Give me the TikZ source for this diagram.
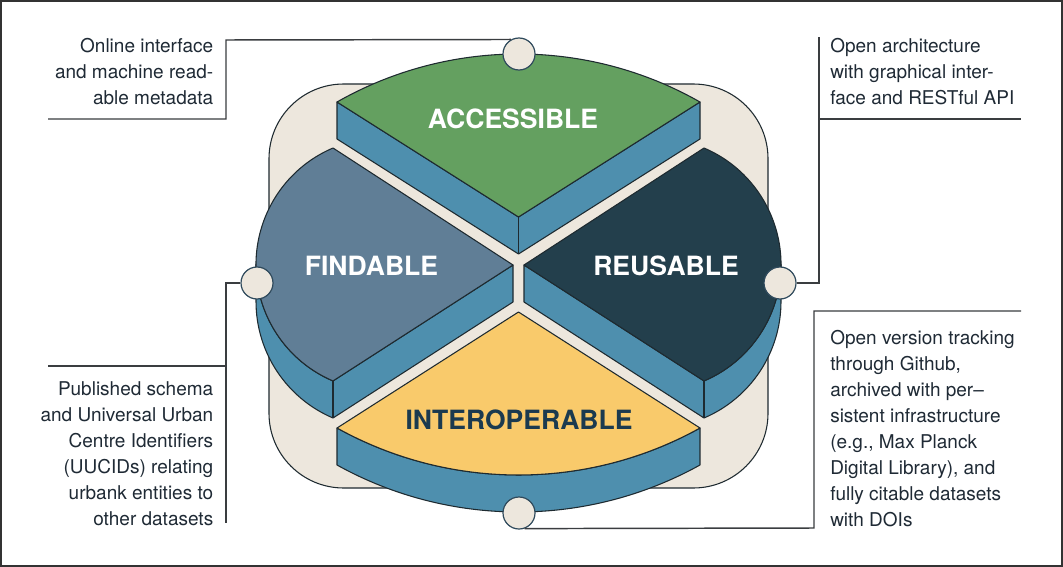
\documentclass[tikz,border=0pt]{standalone}
\usepackage{fontspec}
\setmainfont{TeX Gyre Heros}
\definecolor{greenA}{HTML}{64A060}
\definecolor{slateF}{HTML}{607E96}
\definecolor{tealR}{HTML}{233F4C}
\definecolor{yellowI}{HTML}{F9CA6B}
\definecolor{sideB}{HTML}{4E8FAE}
\definecolor{beige}{HTML}{EDE7DD}
\definecolor{lineC}{HTML}{1E2A30}
\definecolor{connC}{HTML}{3A3D40}
\definecolor{dotC}{HTML}{2F4A5C}
\definecolor{txtC}{HTML}{1F2A35}
\definecolor{navyI}{HTML}{1B3A4F}
\begin{document}
\begin{tikzpicture}[x=0.75pt,y=-0.75pt,
  edge/.style={draw=lineC,line width=0.8pt,line join=round},
  conn/.style={draw=connC,line width=1.1pt},
  dot/.style={circle,draw=dotC,line width=0.9pt,fill=beige,minimum size=24pt,inner sep=0pt},
  big/.style={font=\fontsize{19.9}{24}\selectfont\bfseries,anchor=base,inner sep=0pt},
  note/.style={font=\fontsize{14.25}{19.5}\selectfont,text=txtC,inner sep=0pt}]
\useasboundingbox (0,0) rectangle (1063,567);
\fill[white] (0,0) rectangle (1063,567);
\draw[draw=black!80,line width=1.5pt] (1,1) rectangle (1062,566);

% beige backdrop
\draw[edge,fill=beige,rounded corners=56pt] (269,84) rectangle (768,488);

% ACCESSIBLE
\draw[edge,fill=sideB] (337,102) -- (518.5,217) -- (700,102) -- (700,139) -- (518.5,254) -- (337,139) -- cycle;
\draw[edge] (518.5,217) -- (518.5,254);
\draw[edge,fill=greenA] (337,102) arc[start angle=-119.64,end angle=-60.36,radius=367] -- (518.5,217) -- cycle;

% FINDABLE
\draw[edge,fill=sideB] (256,264.5) arc[start angle=180,end angle=113.07,radius=126.6] -- (513,265) -- (513,302) -- (333,418) arc[start angle=113.07,end angle=180,radius=126.6] -- cycle;
\draw[edge] (333,381) -- (333,418);
\draw[edge,fill=slateF] (513,265) -- (333,148) arc[start angle=246.93,end angle=113.07,radius=126.6] -- cycle;

% REUSABLE
\draw[edge,fill=sideB] (781,264.5) arc[start angle=0,end angle=66.93,radius=126.6] -- (524,265) -- (524,302) -- (704,418) arc[start angle=66.93,end angle=0,radius=126.6] -- cycle;
\draw[edge] (704,381) -- (704,418);
\draw[edge,fill=tealR] (524,265) -- (704,148) arc[start angle=-66.93,end angle=66.93,radius=126.6] -- cycle;

% INTEROPERABLE
\draw[edge,fill=sideB] (700,428) arc[start angle=60.97,end angle=119.03,radius=374] -- (337,465) arc[start angle=119.03,end angle=60.97,radius=374] -- cycle;
\draw[edge,fill=yellowI] (518.5,312) -- (700,428) arc[start angle=60.97,end angle=119.03,radius=374] -- cycle;

% labels
\node[big,text=white] (acc) at (513,128) {ACCESSIBLE};
\node[big,text=white] (fin) at (371.5,275) {FINDABLE};
\node[big,text=white] (reu) at (666,275) {REUSABLE};
\node[big,text=navyI] (int) at (519,429) {INTEROPERABLE};

% circles
\node[dot] (topc) at (519,54) {};
\node[dot] (leftc) at (257,283) {};
\node[dot] (rightc) at (780,283) {};
\node[dot] (botc) at (519,513) {};

% notes
\node[note,align=right,anchor=north east] (ntl) at (213.5,38) {Online interface\\and machine read-\\able metadata};
\node[note,align=left,anchor=north west] (ntr) at (830,38) {Open architecture\\with graphical inter-\\face and RESTful API};
\node[note,align=right,anchor=north east] (nbl) at (213.5,381) {Published schema\\and Universal Urban\\Centre Identifiers\\(UUCIDs) relating\\urbank entities to\hspace*{3pt}\\other datasets};
\node[note,align=left,anchor=north west] (nbr) at (830,330) {Open version tracking\\through Github,\\archived with per–\\sistent infrastructure\\(e.g., Max Planck\\Digital Library), and\\fully citable datasets\\with DOIs};

% connectors
\coordinate (k1) at (226,40);
\coordinate (k2) at (226,119);
\coordinate (e1) at (48,119);
\coordinate (k3) at (226,283);
\coordinate (k4) at (226,523);
\coordinate (k5) at (226,366);
\coordinate (e2) at (48,366);
\coordinate (k6) at (819,283);
\coordinate (k7) at (819,37);
\coordinate (k8) at (819,119);
\coordinate (e3) at (1021,119);
\coordinate (k9) at (814,528);
\coordinate (k10) at (814,311);
\coordinate (e4) at (1021,311);
\draw[conn] (topc.119) -- (k1) -- (k2) -- (e1);
\draw[conn] (leftc.west) -- (k3) -- (k4);
\draw[conn] (k5) -- (e2);
\draw[conn] (rightc.east) -- (k6) -- (k7);
\draw[conn] (k8) -- (e3);
\draw[conn] (botc.-70) -- (k9) -- (k10) -- (e4);
\end{tikzpicture}
\end{document}
